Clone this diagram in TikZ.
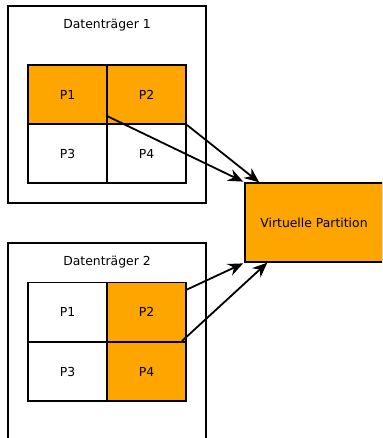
\documentclass[tikz,border=0pt]{standalone}
\usepackage{fontspec}
\setmainfont{DejaVu Sans}
\usetikzlibrary{arrows.meta}
\definecolor{partorange}{HTML}{FFA500}
\begin{document}
\begin{tikzpicture}[x=1pt,y=-1pt,
  every node/.style={font=\fontsize{12.4}{14}\selectfont},
  disk/.style={draw, line width=2pt, rectangle, minimum width=198pt, minimum height=197pt, inner sep=0pt},
  title/.style={inner sep=0pt},
  cell/.style={draw, line width=1.9pt, rectangle, minimum width=79pt, minimum height=59pt, inner sep=0pt, fill=white},
  used/.style={cell, fill=partorange},
  virt/.style={draw, line width=1.9pt, rectangle, fill=partorange, minimum width=138pt, minimum height=79pt, inner sep=0pt},
  link/.style={line width=1.8pt, -{Stealth[length=15pt,width=12.5pt,inset=5pt]}, shorten >=1pt}
]
\useasboundingbox (0,0) rectangle (382,438);
\clip (0,0) rectangle (382,438);

% first disk
\node[disk] (disk1) at (107,104.5) {};
\node[title] (t1) at (107,25) {Datenträger 1};
\node[used] (a1) at (67.5,94.5) {P1};
\node[used] (a2) at (146.5,94.5) {P2};
\node[cell] (a3) at (67.5,153.5) {P3};
\node[cell] (a4) at (146.5,153.5) {P4};

% second disk
\node[disk] (disk2) at (107,341.5) {};
\node[title] (t2) at (107,262) {Datenträger 2};
\node[cell] (b1) at (67.5,312) {P1};
\node[used] (b2) at (146.5,312) {P2};
\node[cell] (b3) at (67.5,371.5) {P3};
\node[used] (b4) at (146.5,371.5) {P4};

% combined partition
\node[virt] (vp) at (314,222.5) {Virtuelle Partition};

% start points of the links
\coordinate (s1) at (107,116);
\coordinate (s3) at (186,290);
\coordinate (s4) at (182,341);
\coordinate (e2) at (260,183);
\coordinate (e4) at (268,262);

\draw[link] (s1) -- (vp.north west);
\draw[link] (a2.south east) -- (e2);
\draw[link] (s3) -- (vp.south west);
\draw[link] (s4) -- (e4);
\end{tikzpicture}
\end{document}
